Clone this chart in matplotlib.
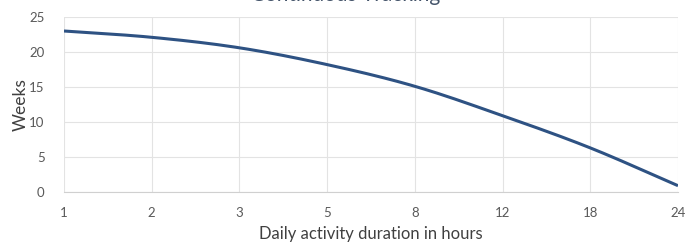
import numpy as np
import matplotlib.pyplot as plt

hours = ['1', '2', '3', '5', '8', '12', '18', '24']
weeks = [23.0, 22.1, 20.6, 18.2, 15.1, 10.9, 6.3, 0.9]

plt.rcParams['font.family'] = ['Lato', 'DejaVu Sans']


def smooth(xs, ys, n=20):
    # catmull-rom drawing between the points, like a smoothed office line
    xs = np.asarray(xs, float)
    ys = np.asarray(ys, float)
    px = np.concatenate([[2*xs[0]-xs[1]], xs, [2*xs[-1]-xs[-2]]])
    py = np.concatenate([[2*ys[0]-ys[1]], ys, [2*ys[-1]-ys[-2]]])
    ox, oy = [], []
    t = np.linspace(0, 1, n, endpoint=False)
    for i in range(1, len(px)-2):
        for p, o in ((px, ox), (py, oy)):
            p0, p1, p2, p3 = p[i-1], p[i], p[i+1], p[i+2]
            o.extend(0.5*((2*p1) + (-p0+p2)*t + (2*p0-5*p1+4*p2-p3)*t**2
                          + (-p0+3*p1-3*p2+p3)*t**3))
    ox.append(xs[-1])
    oy.append(ys[-1])
    return ox, oy


fig = plt.figure(figsize=(6.94, 2.42), dpi=100)
ax = fig.add_axes([64/694, 1-192/242, (678-64)/694, (192-17)/242])

x = list(range(len(hours)))
sx, sy = smooth(x, weeks)
ax.plot(sx, sy, color='#2E5283', lw=2.2, solid_capstyle='butt')

ax.set_xlim(0, len(hours)-1)
ax.set_ylim(0, 25)
ax.set_xticks(x)
ax.set_xticklabels(hours)
ax.set_yticks([0, 5, 10, 15, 20, 25])
ax.grid(True, color='#E3E3E3', lw=0.8)
ax.set_axisbelow(True)
for s in ['top', 'right', 'left']:
    ax.spines[s].set_visible(False)
ax.spines['bottom'].set_color('#D0D0D0')
ax.tick_params(length=0, labelsize=9.5, colors='#595959')
ax.tick_params(axis='x', pad=11)
ax.tick_params(axis='y', pad=14)
ax.set_xlabel('Daily activity duration in hours', fontsize=12, color='#404040', labelpad=5)
ax.set_ylabel('Weeks', fontsize=12.5, color='#404040', labelpad=0)

fig.text(0.5 - 1/694, 1 - 1/242, 'Continuous Tracking', ha='center', va='baseline',
         fontsize=15, color='#44546A')

fig.savefig('out.png', dpi=100)
